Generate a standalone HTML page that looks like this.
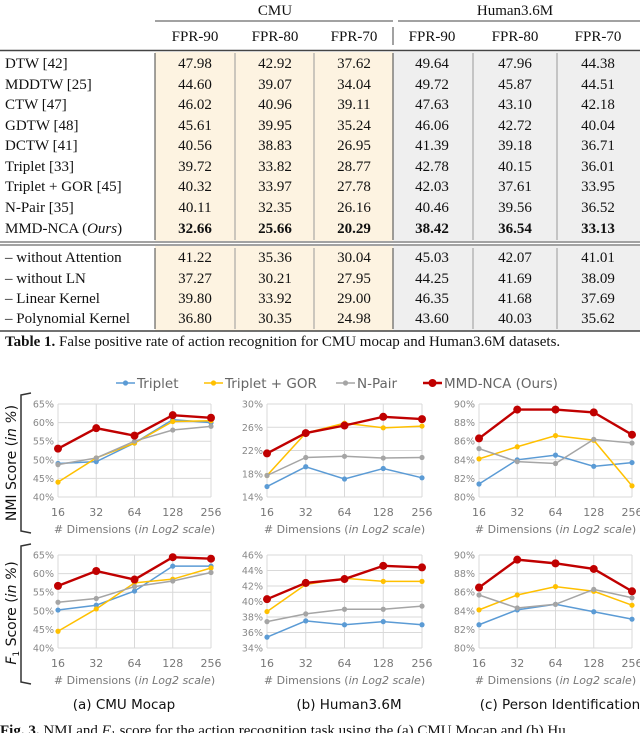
<!DOCTYPE html>
<html><head><meta charset="utf-8"><style>
html,body{margin:0;padding:0;background:#fff;}
svg{display:block;}
.t{font-family:"Liberation Serif",serif;font-size:15px;fill:#111;}
.s{font-family:"DejaVu Sans","Liberation Sans",sans-serif;}
</style></head><body>
<svg id="fig" width="640" height="733" viewBox="0 0 640 733" xmlns="http://www.w3.org/2000/svg">
<g id="table"></g>
<g id="charts"></g>
</svg>
<script>
const NS='http://www.w3.org/2000/svg';
function mk(tag,attrs,parent,txt){const e=document.createElementNS(NS,tag);for(const k in attrs)e.setAttribute(k,attrs[k]);if(txt!==undefined)e.textContent=txt;parent.appendChild(e);return e;}

// ---------- TABLE ----------
const methods=["DTW [42]","MDDTW [25]","CTW [47]","GDTW [48]","DCTW [41]","Triplet [33]","Triplet + GOR [45]","N-Pair [35]","MMD-NCA (Ours)"];
const ablations=["– without Attention","– without LN","– Linear Kernel","– Polynomial Kernel"];
const cmuVals=[["47.98","42.92","37.62"],["44.60","39.07","34.04"],["46.02","40.96","39.11"],["45.61","39.95","35.24"],["40.56","38.83","26.95"],["39.72","33.82","28.77"],["40.32","33.97","27.78"],["40.11","32.35","26.16"],["32.66","25.66","20.29"],
["41.22","35.36","30.04"],["37.27","30.21","27.95"],["39.80","33.92","29.00"],["36.80","30.35","24.98"]];
const humVals=[["49.64","47.96","44.38"],["49.72","45.87","44.51"],["47.63","43.10","42.18"],["46.06","42.72","40.04"],["41.39","39.18","36.71"],["42.78","40.15","36.01"],["42.03","37.61","33.95"],["40.46","39.56","36.52"],["38.42","36.54","33.13"],
["45.03","42.07","41.01"],["44.25","41.69","38.09"],["46.35","41.68","37.69"],["43.60","40.03","35.62"]];
const T=document.getElementById('table');
const rowY=[63,84,104,125,145,166,186,207,228,257,278,298,318];
const colX=[195,275,354,432,515,598];
let r;
r=mk('rect',{x:155,y:52,width:238,height:189,fill:'#fdf3e1'},T);
r=mk('rect',{x:155,y:246,width:238,height:85,fill:'#fdf3e1'},T);
r=mk('rect',{x:393,y:52,width:247,height:189,fill:'#efefef'},T);
r=mk('rect',{x:393,y:246,width:247,height:85,fill:'#efefef'},T);
mk('line',{x1:155,y1:21,x2:393,y2:21,stroke:'#444','stroke-width':1},T);
mk('line',{x1:398,y1:21,x2:640,y2:21,stroke:'#444','stroke-width':1},T);
mk('line',{x1:0,y1:50.5,x2:640,y2:50.5,stroke:'#444','stroke-width':1.5},T);
mk('line',{x1:0,y1:242,x2:640,y2:242,stroke:'#444','stroke-width':1},T);
mk('line',{x1:0,y1:245,x2:640,y2:245,stroke:'#444','stroke-width':1},T);
mk('line',{x1:0,y1:331,x2:640,y2:331,stroke:'#444','stroke-width':1.5},T);
[[155,'#444'],[235,'#999'],[314,'#999'],[393,'#444'],[473,'#999'],[557,'#999']].forEach(([x,c])=>{
  mk('line',{x1:x,y1:53,x2:x,y2:240,stroke:c,'stroke-width':1},T);
  mk('line',{x1:x,y1:248,x2:x,y2:329,stroke:c,'stroke-width':1},T);
});
mk('line',{x1:393,y1:27,x2:393,y2:45,stroke:'#444','stroke-width':1},T);
let e;
e=mk('text',{x:275,y:15,'text-anchor':'middle',class:'t'},T,'CMU');
e=mk('text',{x:515,y:15,'text-anchor':'middle',class:'t'},T,'Human3.6M');
const fpr=['FPR-90','FPR-80','FPR-70','FPR-90','FPR-80','FPR-70'];
fpr.forEach((f,i)=>{const h=mk('text',{x:colX[i],y:41,'text-anchor':'middle',class:'t'},T,f);

});
const labels=methods.concat(ablations);
labels.forEach((lab,i)=>{
  const y=rowY[i]+5;
  let tx;
  if(lab==="MMD-NCA (Ours)"){tx=mk('text',{x:5,y:y,class:'t'},T);tx.innerHTML='MMD-NCA (<tspan font-style="italic">Ours</tspan>)';}
  else tx=mk('text',{x:5,y:y,class:'t'},T,lab);
  
  
  const vals=cmuVals[i].concat(humVals[i]);
  vals.forEach((v,j)=>{const c=mk('text',{x:colX[j],y:y,'text-anchor':'middle',class:'t','font-weight':i===8?'bold':'normal'},T,v);
  
  });
});
e=mk('text',{x:5,y:346,class:'t','font-size':'14'},T);e.innerHTML='<tspan font-weight="bold">Table 1.</tspan>  False positive rate of action recognition for CMU mocap and Human3.6M datasets.';


// ---------- CHARTS ----------
const dims=["16","32","64","128","256"];
const seriesNames=["Triplet","Triplet + GOR","N-Pair","MMD-NCA (Ours)"];
const nmiA_triplet=[49,49.5,54.5,60.8,60];
const nmiA_gor=[44,50.5,54.5,60.3,60.5];
const nmiA_npair=[48.7,50.5,55,58,59];
const nmiA_mmd=[53,58.5,56.5,62,61.3];
const nmiB_triplet=[15.8,19.2,17.1,18.9,17.3];
const nmiB_gor=[17.7,25,26.7,25.9,26.2];
const nmiB_npair=[17.7,20.8,21,20.7,20.8];
const nmiB_mmd=[21.5,25,26.3,27.8,27.4];
const nmiC_triplet=[81.4,84,84.5,83.3,83.7];
const nmiC_gor=[84.1,85.4,86.6,86.1,81.2];
const nmiC_npair=[85.2,83.8,83.6,86.2,85.8];
const nmiC_mmd=[86.3,89.4,89.4,89.1,86.7];
const f1A_triplet=[50.2,51.5,55.3,62,62];
const f1A_gor=[44.5,50.5,57.5,58.5,61.5];
const f1A_npair=[52.3,53.3,56.5,58,60.3];
const f1A_mmd=[56.7,60.7,58.4,64.4,64];
const f1B_triplet=[35.4,37.5,37,37.4,37];
const f1B_gor=[38.7,42.2,43,42.6,42.6];
const f1B_npair=[37.4,38.4,39,39,39.4];
const f1B_mmd=[40.3,42.4,42.9,44.6,44.4];
const f1C_triplet=[82.5,84.1,84.7,83.9,83.1];
const f1C_gor=[84.1,85.7,86.6,86.1,84.6];
const f1C_npair=[85.7,84.3,84.7,86.3,85.4];
const f1C_mmd=[86.5,89.5,89.1,88.5,86.1];
const ticksA=[40,45,50,55,60,65];
const ticksNmiB=[14,18,22,26,30];
const ticksF1B=[34,36,38,40,42,44,46];
const ticksC=[80,82,84,86,88,90];
const colors=['#5b9bd5','#ffc000','#a5a5a5','#c00000'];

const C=document.getElementById('charts');
function chart(name,x0,x1,y0,y1,ticks,series){
  const g=mk('g',{},C);
  const lo=ticks[0],hi=ticks[ticks.length-1];
  const sx=i=>x0+(x1-x0)*i/(dims.length-1);
  const sy=v=>y1-(v-lo)/(hi-lo)*(y1-y0);
  ticks.forEach(t=>{const y=sy(t);mk('line',{x1:x0,y1:y,x2:x1,y2:y,stroke:'#d9d9d9','stroke-width':1},g);
    const l=mk('text',{x:x0-4,y:y+3.5,'text-anchor':'end',class:'s','font-size':'9.5',fill:'#888'},g,t+'%');
    });
  dims.forEach((d,i)=>{mk('line',{x1:sx(i),y1:y0,x2:sx(i),y2:y1,stroke:'#d9d9d9','stroke-width':1},g);
    const l=mk('text',{x:sx(i),y:y1+19,'text-anchor':'middle',class:'s','font-size':'11',fill:'#777'},g,d);
    });
  const xt=mk('text',{x:(x0+x1)/2,y:y1+36,'text-anchor':'middle',class:'s','font-size':'11',fill:'#777'},g);
  xt.innerHTML='# Dimensions (<tspan font-style="italic">in Log2 scale</tspan>)';
  
  series.forEach((vals,k)=>{
    const big=k===3;
    const p=mk('polyline',{points:vals.map((v,i)=>sx(i)+','+sy(v)).join(' '),fill:'none',stroke:colors[k],'stroke-width':big?2.4:1.5},g);
    
    
    vals.forEach((v,i)=>{const c=mk('circle',{cx:sx(i),cy:sy(v),r:big?4:2.6,fill:colors[k]},g);
      });
  });
}
chart('nmi-cmu-chart',58,211,404,497,ticksA,[nmiA_triplet,nmiA_gor,nmiA_npair,nmiA_mmd]);
chart('nmi-human-chart',267,422,404,497,ticksNmiB,[nmiB_triplet,nmiB_gor,nmiB_npair,nmiB_mmd]);
chart('nmi-person-chart',479,632,404,497,ticksC,[nmiC_triplet,nmiC_gor,nmiC_npair,nmiC_mmd]);
chart('f1-cmu-chart',58,211,555,648,ticksA,[f1A_triplet,f1A_gor,f1A_npair,f1A_mmd]);
chart('f1-human-chart',267,422,555,648,ticksF1B,[f1B_triplet,f1B_gor,f1B_npair,f1B_mmd]);
chart('f1-person-chart',479,632,555,648,ticksC,[f1C_triplet,f1C_gor,f1C_npair,f1C_mmd]);

const lg=mk('g',{},C);
const legX=[116,204,336,423];
seriesNames.forEach((n,k)=>{
  const x=legX[k];
  mk('line',{x1:x,y1:383,x2:x+19,y2:383,stroke:colors[k],'stroke-width':k===3?2.4:1.5},lg);
  mk('circle',{cx:x+9.5,cy:383,r:k===3?4:2.6,fill:colors[k]},lg);
  const t=mk('text',{x:x+21,y:388,class:'s','font-size':'13.5',fill:'#666'},lg,n);
  
});
[[393,533],[544,684]].forEach(([a,b])=>{
  mk('path',{d:`M31 ${a} L21 ${a+2} L21 ${b-2} L31 ${b}`,fill:'none',stroke:'#333','stroke-width':1.5},C);
});
let yt=mk('text',{transform:'translate(16,463) rotate(-90)','text-anchor':'middle',class:'s','font-size':'14',fill:'#111'},C);
yt.innerHTML='NMI Score (<tspan font-style="italic">in %</tspan>)';

yt=mk('text',{transform:'translate(16,613) rotate(-90)','text-anchor':'middle',class:'s','font-size':'14',fill:'#111'},C);
yt.innerHTML='<tspan font-style="italic">F</tspan><tspan font-size="9" dy="3">1</tspan><tspan dy="-3"> Score (</tspan><tspan font-style="italic">in %</tspan>)';

[['(a) CMU Mocap',124],['(b) Human3.6M',349],['(c) Person Identification',560]].forEach(([s,x])=>{
  const t=mk('text',{x:x,y:709,'text-anchor':'middle',class:'s','font-size':'13.5',fill:'#111'},C,s);
  
});
const cap=mk('text',{x:0,y:735,class:'t','font-size':'15'},C);
cap.innerHTML='<tspan font-weight="bold">Fig. 3.</tspan> NMI and <tspan font-style="italic">F</tspan><tspan font-size="10" dy="3">1</tspan><tspan dy="-3"> score for the action recognition task using the (a) CMU Mocap and (b) Hu</tspan>';

</script>
</body></html>
